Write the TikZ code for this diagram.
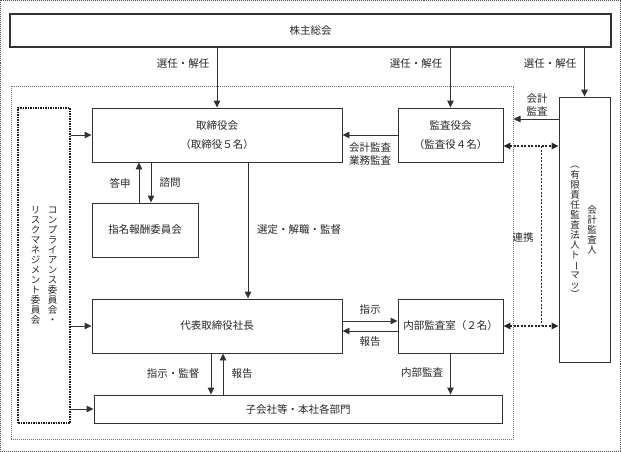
\documentclass[tikz,border=0pt]{standalone}
\usepackage{fontspec}
\newfontfamily\jp{Noto Sans CJK JP}
\usetikzlibrary{arrows.meta,positioning,calc}
\newcommand{\tatefont}{\jp\fontsize{9.5}{10}\selectfont\lineskiplimit=-\maxdimen}
\newcommand{\tatert}[1]{\rotatebox[origin=c]{-90}{#1}}

\begin{document}
\begin{tikzpicture}[x=1pt, y=-1pt,
    font=\jp\fontsize{10.5}{13}\selectfont, text=black!85,
    box/.style={draw=black!80, line width=0.9pt, inner sep=0pt, align=center},
    twoline/.style={font=\jp\fontsize{10.5}{19}\selectfont},
    arr/.style={draw=black!80, line width=0.9pt, -{Triangle[length=7pt,width=6.5pt]}},
    link/.style={draw=black!85, line width=1.3pt, dash pattern=on 2pt off 1.5pt},
    linkarr/.style={link, {Triangle[length=7pt,width=6.5pt]}-{Triangle[length=7pt,width=6.5pt]}},
    tate/.style={align=center, inner sep=0pt, font=\tatefont},
    lbl/.style={inner sep=1pt, align=center}]
    \useasboundingbox (0,0) rectangle (621,452);

    % Frames
    \draw[black!70, line width=0.7pt, dash pattern=on 1pt off 1pt] (0.5,0.5) rectangle (620.5,451.5);
    \draw[black!55, line width=0.6pt, dash pattern=on 1pt off 1pt] (11.5,86) rectangle (513.5,439);

    % Boxes
    \node[box, line width=1.6pt, minimum width=601pt, minimum height=33pt] (sh) at (310.5,30.5) {株主総会};
    \node[box, twoline, minimum width=250pt, minimum height=54pt] (board) at (217,135) {取締役会\\（取締役５名）};
    \node[box, twoline, minimum width=105pt, minimum height=54pt] (kansa) at (450.5,135) {監査役会\\（監査役４名）};
    \node[box, minimum width=51pt, minimum height=265pt] (kaikei) at (584.5,229.5) {};
    \node[box, minimum width=106pt, minimum height=54pt] (shimei) at (145,230) {指名報酬委員会};
    \node[box, minimum width=250pt, minimum height=54pt] (pres) at (217,326) {代表取締役社長};
    \node[box, minimum width=105pt, minimum height=54pt] (naibu) at (450.5,326) {内部監査室（２名）};
    \node[box, minimum width=408pt, minimum height=28pt] (sub) at (298,409) {子会社等・本社各部門};
    \node[box, draw=black!90, line width=1.3pt, dash pattern=on 1.5pt off 1pt,
          minimum width=52pt, minimum height=315pt] (cmp) at (44,265.5) {};

    % Vertical texts
    \node[tate] (cmpA) at ([xshift=8.5pt]cmp.center) {コ\\ン\\プ\\ラ\\イ\\ア\\ン\\ス\\委\\員\\会\\・};
    \node[tate] (cmpB) at ([xshift=-8.5pt]cmp.center) {リ\\ス\\ク\\マ\\ネ\\ジ\\メ\\ン\\ト\\委\\員\\会};
    \node[tate] (kaiA) at ([xshift=7.5pt]kaikei.center) {会\\計\\監\\査\\人};
    \node[tate] (kaiB) at ([xshift=-9.5pt]kaikei.center) {\tatert{（}\\有\\限\\責\\任\\監\\査\\法\\人\\ト\\\tatert{ー}\\マ\\ッ\\\tatert{）}};

    % Appointment
    \draw[arr] (sh.south -| board.north) -- (board.north);
    \draw[arr] (sh.south -| kansa.north) -- (kansa.north);
    \draw[arr] (sh.south -| kaikei.north) -- (kaikei.north);
    \node[lbl] (sel1) at (183,64) {選任・解任};
    \node[lbl] (sel2) at (416,64) {選任・解任};
    \node[lbl] (sel3) at (550,64) {選任・解任};

    % Audits
    \coordinate (inE) at (513.5,119);
    \draw[arr] (kaikei.west |- inE) -- (inE);
    \node[lbl, font=\jp\fontsize{10.5}{13}\selectfont] (acc) at (537,104.5) {会計\\監査};
    \draw[arr] (kansa.west) -- (board.east);
    \node[lbl, font=\jp\fontsize{10.5}{12.5}\selectfont] (aud) at (370,154) {会計監査\\業務監査};

    % Cooperation
    \draw[linkarr] ([yshift=-11pt]kansa.east) -- ([yshift=-11pt]kansa.east -| kaikei.west);
    \draw[linkarr] (naibu.east) -- (naibu.east -| kaikei.west);
    \draw[link] ([xshift=38pt,yshift=-11pt]kansa.east) -- ([xshift=38pt]naibu.east);
    \node[lbl] (coop) at (523,238) {連携};

    % Board and committee
    \draw[arr] ([xshift=-6pt]shimei.north) -- ([xshift=-6pt]shimei.north |- board.south);
    \draw[arr] ([xshift=6pt]shimei.north |- board.south) -- ([xshift=6pt]shimei.north);
    \node[lbl] (tosin) at (120,183) {答申};
    \node[lbl] (simon) at (170,183) {諮問};

    \draw[arr] ([xshift=31pt]board.south) -- ([xshift=31pt]pres.north);
    \node[lbl] (sentei) at (299,230) {選定・解職・監督};

    % President and internal audit
    \draw[arr] ([yshift=5pt]pres.east) -- ([yshift=5pt]naibu.west);
    \draw[arr] ([yshift=-5pt]naibu.west) -- ([yshift=-5pt]pres.east);
    \node[lbl] (sizi1) at (370,310) {指示};
    \node[lbl] (hok1) at (370,342) {報告};

    \draw[arr] ([xshift=-6pt]pres.south) -- ([xshift=-6pt]pres.south |- sub.north);
    \draw[arr] ([xshift=6pt]pres.south |- sub.north) -- ([xshift=6pt]pres.south);
    \node[lbl] (sizi2) at (173,374) {指示・監督};
    \node[lbl] (hok2) at (242,374) {報告};

    \draw[arr] (naibu.south) -- (naibu.south |- sub.north);
    \node[lbl] (naika) at (422,373) {内部監査};

    % Compliance
    \draw[arr] (cmp.east |- board.west) -- (board.west);
    \draw[arr] (cmp.east |- pres.west) -- (pres.west);
    \draw[arr] (cmp.east |- sub.west) -- (sub.west);
\end{tikzpicture}
\end{document}
